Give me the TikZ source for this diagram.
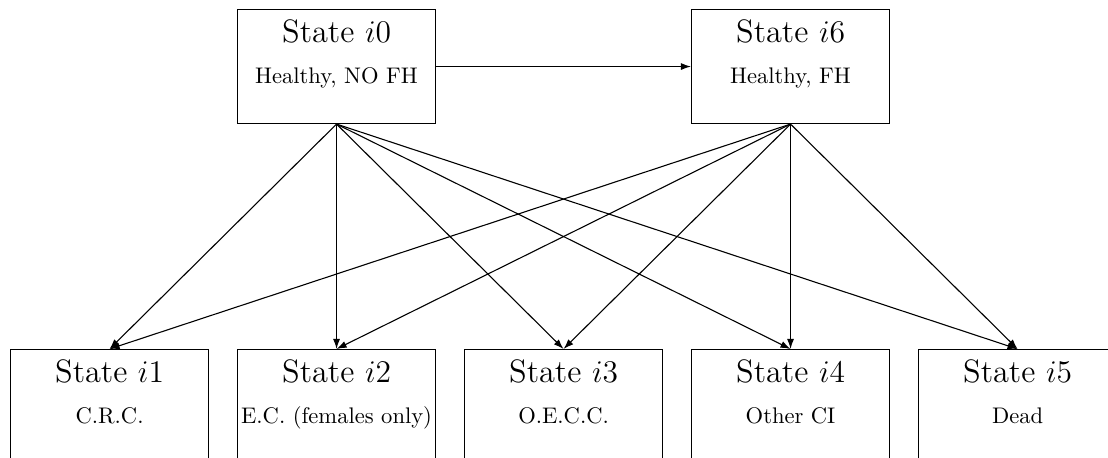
\documentclass[tikz,border=0pt]{standalone}
\usetikzlibrary{arrows.meta}
\begin{document}
\begin{tikzpicture}[x=0.4566pt,y=-0.4566pt,
  statebox/.style={draw,line width=0.5pt,minimum width=198*0.4566pt,minimum height=114*0.4566pt,inner sep=0pt,anchor=north west},
  statetitle/.style={anchor=base,font=\fontsize{14.8}{18}\selectfont,inner sep=0pt},
  statesub/.style={anchor=base,font=\fontsize{10.3}{12.5}\selectfont,inner sep=0pt},
  trans/.style={line width=0.5pt,-{Latex[length=4.6pt,width=3.2pt]}}]
\useasboundingbox (0,0) rectangle (1108,458);
\clip (0,0) rectangle (1108,458);
% upper row: healthy states
\node[statebox] (i0) at (237,9) {};
\node[statebox] (i6) at (691,9) {};
% lower row: outcome states (running past the lower edge)
\node[statebox] (i1) at (10,349) {};
\node[statebox] (i2) at (237,349) {};
\node[statebox] (i3) at (464,349) {};
\node[statebox] (i4) at (691,349) {};
\node[statebox] (i5) at (918,349) {};
% labels
\foreach \s/\t/\d in {i0/0/{Healthy, NO FH}, i6/6/{Healthy, FH},
  i1/1/{C.R.C.}, i2/2/{E.C. (females only)}, i3/3/{O.E.C.C.},
  i4/4/{Other CI}, i5/5/{Dead}}{
  \node[statetitle] (\s t) at ([yshift=-34*0.4566pt]\s.north) {State $i\t$};
  \node[statesub] (\s d) at ([yshift=-75*0.4566pt]\s.north) {\d};
}
% transitions
\draw[trans] (i0.east) -- (i6.west);
\foreach \b in {i1,i2,i3,i4,i5}{
  \draw[trans] (i0.south) -- (\b.north);
  \draw[trans] (i6.south) -- (\b.north);
}
\end{tikzpicture}
\end{document}
